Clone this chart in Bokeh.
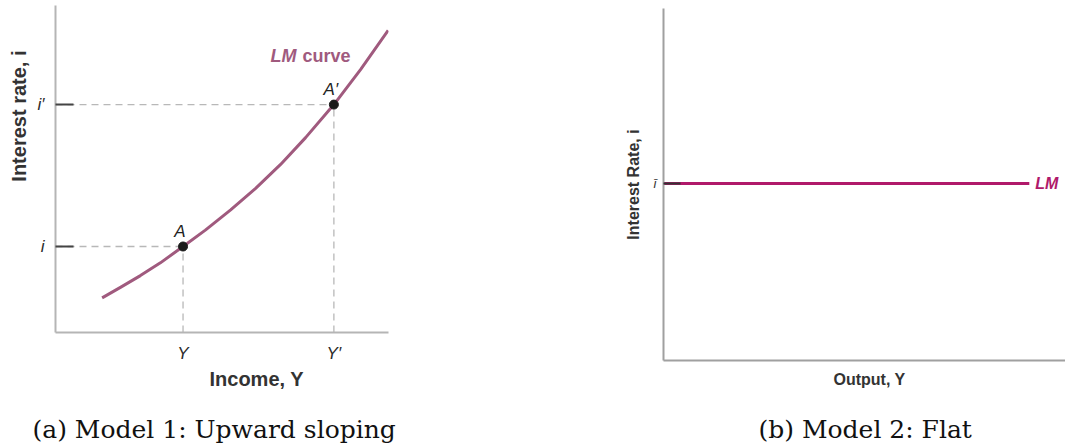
from bokeh.plotting import figure
from bokeh.layouts import row
from bokeh.models import FixedTicker, Title, Range1d
from bokeh.core.properties import value
from bokeh.embed import file_html
from bokeh.resources import INLINE

# ---------------- data (panel a) ----------------
income = [1.40, 1.95, 2.55, 3.15, 3.83, 4.50, 5.26, 6.01, 6.76, 7.51, 8.36, 9.16, 9.99]
interest = [1.06, 1.38, 1.74, 2.13, 2.63, 3.13, 3.75, 4.41, 5.14, 5.96, 6.97, 8.04, 9.24]
point_labels = ["A", "A′"]
point_x = [3.83, 8.36]
point_y = [2.63, 6.97]
x_tick_labels = ["Y", "Y′"]
y_tick_labels = ["i", "i′"]

# ---------------- data (panel b) ----------------
flat_x = [0.0, 9.10]
flat_y = [5.03, 5.03]
flat_tick_label = ["ī"]

CURVE = "#a05a7e"
FLAT = "#b0196a"
SANS = "Liberation Sans"
H = 444


def base_fig(width, bl, br, bt, bb):
    p = figure(width=width, height=H, x_range=Range1d(0, 10), y_range=Range1d(0, 10),
               output_backend="svg", toolbar_location=None,
               min_border_left=bl, min_border_right=br, min_border_top=bt, min_border_bottom=bb)
    p.outline_line_color = None
    p.grid.visible = False
    if hasattr(p, "frame_align"):
        p.frame_align = False
    return p


# ================= panel (a) =================
p1 = base_fig(420, 55, 32, 5, 112)

xa = p1.xaxis[0]
xa.ticker = FixedTicker(ticks=point_x)
xa.major_label_overrides = {v: s for v, s in zip(point_x, x_tick_labels)}
xa.major_tick_in = 0
xa.major_tick_out = 0
xa.minor_tick_in = 0
xa.minor_tick_out = 0
xa.axis_line_color = "#b5b5b5"
xa.axis_line_width = 2
xa.major_label_text_font = SANS
xa.major_label_text_font_style = "italic"
xa.major_label_text_font_size = "17px"
xa.major_label_text_color = "#2b2b2b"
xa.major_label_standoff = 11

ya = p1.yaxis[0]
ya.ticker = FixedTicker(ticks=point_y)
ya.major_label_overrides = {v: s for v, s in zip(point_y, y_tick_labels)}
ya.major_tick_in = 18
ya.major_tick_out = 0
ya.minor_tick_in = 0
ya.minor_tick_out = 0
ya.major_tick_line_color = "#444444"
ya.major_tick_line_width = 2
ya.axis_line_color = "#b5b5b5"
ya.axis_line_width = 2
ya.major_label_text_font = SANS
ya.major_label_text_font_style = "italic"
ya.major_label_text_font_size = "17px"
ya.major_label_text_color = "#2b2b2b"
ya.major_label_standoff = 11
ya.major_label_orientation = "horizontal"

# dashed guides
n = len(point_x)
p1.segment(x0=[0.0] * n, y0=point_y, x1=point_x, y1=point_y,
           line_color="#b8b8b8", line_width=1.3, line_dash="7 5")
p1.segment(x0=point_x, y0=[0.0] * n, x1=point_x, y1=point_y,
           line_color="#b8b8b8", line_width=1.3, line_dash="7 5")

p1.line(income, interest, line_color=CURVE, line_width=3, line_join="round")
p1.scatter(point_x, point_y, size=9, color="#1a1a1a")
p1.text(x=point_x, y=point_y, text=point_labels, x_offset=-3, y_offset=-15,
        text_align="center", text_baseline="middle",
        text_font=value(SANS), text_font_style="italic", text_font_size="17px",
        text_color="#222222")

p1.text(x=[6.46], y=[8.47], text=["LM"], text_align="left", text_baseline="middle",
        text_font=value(SANS), text_font_style="bold italic", text_font_size="18px",
        text_color=CURVE)
p1.text(x=[7.42], y=[8.47], text=["curve"], text_align="left", text_baseline="middle",
        text_font=value(SANS), text_font_style="bold", text_font_size="18px",
        text_color=CURVE)

p1.add_layout(Title(text="Interest rate, i", align="right", offset=45, standoff=10,
                    text_font=SANS, text_font_style="bold", text_font_size="20px",
                    text_color="#333333"), "left")

p1.add_layout(Title(text="Income, Y", align="left", offset=154, standoff=0,
                    text_font=SANS, text_font_style="bold", text_font_size="20px",
                    text_color="#333333"), "below")
p1.add_layout(Title(text="(a) Model 1: Upward sloping", align="left", offset=-23, standoff=0,
                    padding=dict(left=0, right=0, top=23, bottom=0),
                    text_font="DejaVu Serif", text_font_style="normal", text_font_size="25px",
                    text_color="#111111"), "below")

# ================= panel (b) =================
p2 = base_fig(645, 243, 0, 8, 84)

xb = p2.xaxis[0]
xb.ticker = FixedTicker(ticks=[])
xb.major_tick_in = 0
xb.major_tick_out = 0
xb.minor_tick_in = 0
xb.minor_tick_out = 0
xb.major_label_standoff = 0
xb.axis_line_color = "#a0a0a0"
xb.axis_line_width = 2

yb = p2.yaxis[0]
yb.ticker = FixedTicker(ticks=flat_y[:1])
yb.major_label_overrides = {flat_y[0]: flat_tick_label[0]}
yb.major_tick_in = 17
yb.major_tick_out = 0
yb.minor_tick_in = 0
yb.minor_tick_out = 0
yb.major_tick_line_color = "#333333"
yb.major_tick_line_width = 2
yb.axis_line_color = "#a0a0a0"
yb.axis_line_width = 2
yb.major_label_text_font = SANS
yb.major_label_text_font_style = "italic"
yb.major_label_text_font_size = "13px"
yb.major_label_text_color = "#333333"
yb.major_label_standoff = 7
yb.major_label_orientation = "horizontal"
yb.axis_label = "Interest Rate, i"
yb.axis_label_text_font = SANS
yb.axis_label_text_font_style = "bold"
yb.axis_label_text_font_size = "16px"
yb.axis_label_text_color = "#333333"
yb.axis_label_standoff = 9

p2.line(flat_x, flat_y, line_color=FLAT, line_width=3)
p2.text(x=[flat_x[-1]], y=[flat_y[-1]], text=["LM"], x_offset=6,
        text_align="left", text_baseline="middle",
        text_font=value(SANS), text_font_style="bold italic", text_font_size="16px",
        text_color=FLAT)

p2.add_layout(Title(text="Output, Y", align="left", offset=170, standoff=16,
                    text_font=SANS, text_font_style="bold", text_font_size="16px",
                    text_color="#333333"), "below")
p2.add_layout(Title(text="(b) Model 2: Flat", align="left", offset=95, standoff=0,
                    padding=dict(left=0, right=0, top=17, bottom=0),
                    text_font="DejaVu Serif", text_font_style="normal", text_font_size="25px",
                    text_color="#111111"), "below")

layout = row(p1, p2)
open("out.html", "w").write(file_html(layout, INLINE))
